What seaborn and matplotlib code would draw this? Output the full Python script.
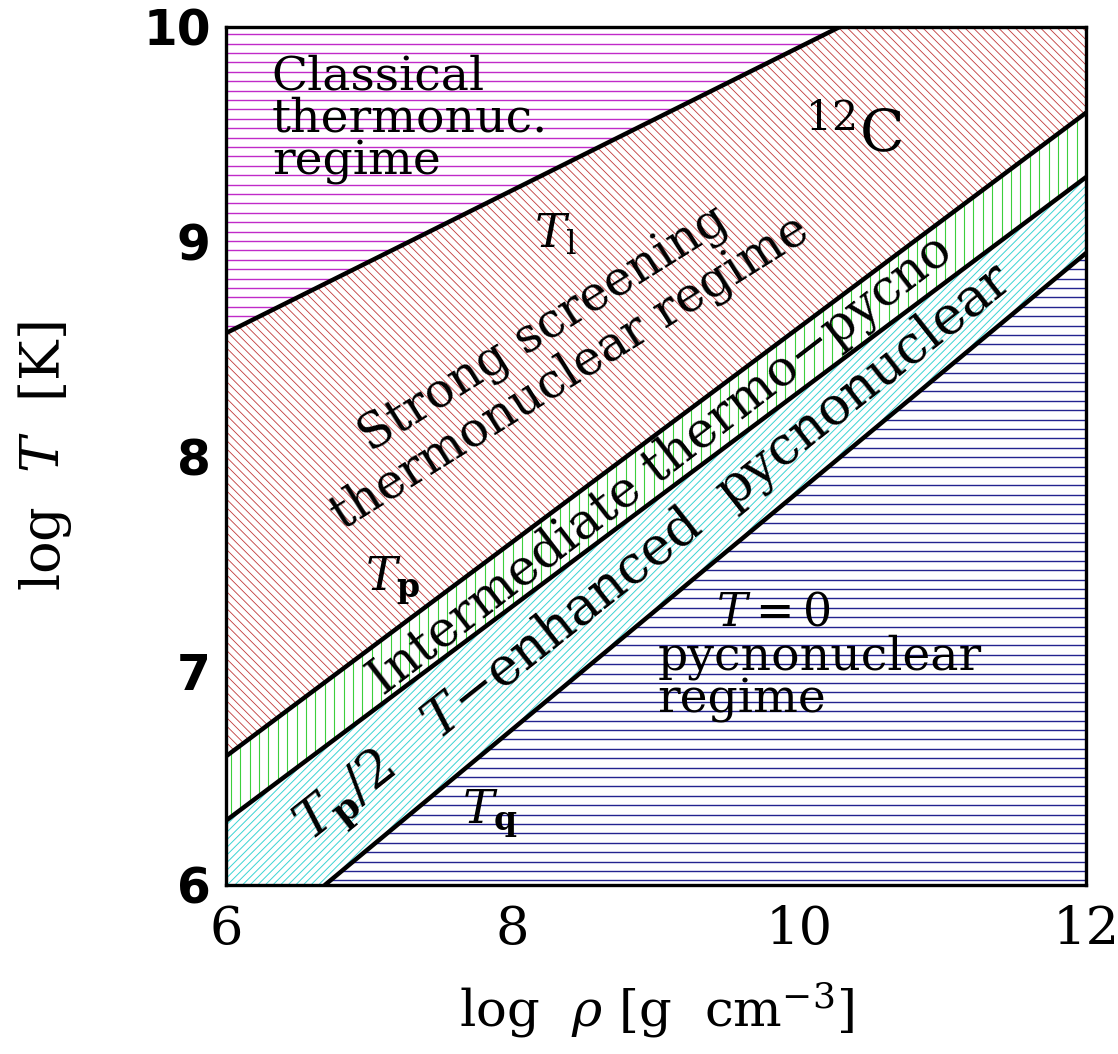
import numpy as np
import matplotlib
matplotlib.use("Agg")
import matplotlib.pyplot as plt
import seaborn as sns
from matplotlib.collections import LineCollection
from matplotlib.ticker import MultipleLocator, FixedLocator

# Regime boundaries in the (log rho, log T) plane for 12C
log_rho = [6.0, 12.0]
log_T_l = [8.573, 10.573]        # T_l : classical / strong-screening boundary
log_T_p = [6.60, 9.60]           # T_p : thermonuclear / intermediate boundary
log_T_p_half = [6.30, 9.30]      # T_p/2
log_rho_q = [6.69, 12.0]
log_T_q = [6.00, 8.946]          # T_q : T-enhanced / zero-temperature boundary

x_major = [6, 8, 10, 12]
y_major = [6, 7, 8, 9, 10]

sns.set_theme(style="ticks")
plt.rcParams["font.family"] = ["DejaVu Serif"]
plt.rcParams["mathtext.fontset"] = "dejavuserif"
for key in ["text.color", "axes.labelcolor", "xtick.color", "ytick.color",
            "xtick.labelcolor", "ytick.labelcolor"]:
    plt.rcParams[key] = "black"

FW, FH = 1118, 1054
fig = plt.figure(figsize=(FW / 100, FH / 100), dpi=100)
L, R, T, B = 226, 1086, 27, 885
ax = fig.add_axes([L / FW, 1 - B / FH, (R - L) / FW, (B - T) / FH])
W, H = R - L, B - T
ax.set_xlim(6, 12)
ax.set_ylim(6, 10)
ax.set_facecolor("white")


def hatch(poly, kind, spacing, color, lw, z):
    """Draw hatch lines (in pixel spacing) clipped to a filled region."""
    path = poly.get_paths()[0]
    segs = []
    if kind == "h":
        for yp in np.arange(spacing / 2, H, spacing):
            segs.append([(0, yp / H), (1, yp / H)])
    elif kind == "v":
        for xp in np.arange(spacing / 2, W, spacing):
            segs.append([(xp / W, 0), (xp / W, 1)])
    elif kind == "\\":
        for c in np.arange(0, W + H, spacing):
            segs.append([(c / W, 0), (0, c / H)])
    elif kind == "/":
        for c in np.arange(-W, H, spacing):
            segs.append([(0, c / H), (1, (c + W) / H)])
    lc = LineCollection(segs, colors=color, linewidths=lw,
                        transform=ax.transAxes, zorder=z)
    lc.set_clip_path(path, ax.transData)
    lc.set_clip_box(ax.bbox)
    ax.add_collection(lc, autolim=False)


# Classical thermonuclear regime (above T_l)
p = ax.fill_between(log_rho, log_T_l, [11, 11], facecolor="white", edgecolor="none", zorder=1)
hatch(p, "h", 9.4, "#c02ac8", 1.0, 1.05)
# Strong screening thermonuclear regime (T_p .. T_l)
p = ax.fill_between(log_rho, log_T_p, log_T_l, facecolor="white", edgecolor="none", zorder=1)
hatch(p, "\\", 8.4, "#c03a3a", 0.6, 1.05)
# Intermediate thermo-pycno regime (T_p/2 .. T_p)
p = ax.fill_between(log_rho, log_T_p_half, log_T_p, facecolor="white", edgecolor="none", zorder=1)
hatch(p, "v", 9.4, "#3ccf3c", 0.8, 1.05)
# T-enhanced pycnonuclear regime (below T_p/2)
p = ax.fill_between(log_rho, [5, 5], log_T_p_half, facecolor="white", edgecolor="none", zorder=1)
hatch(p, "/", 7.6, "#3cd4d4", 0.7, 1.05)
# T=0 pycnonuclear regime (below T_q)
p = ax.fill_between(log_rho_q, [5, 5], log_T_q, facecolor="white", edgecolor="none", zorder=1.2)
hatch(p, "h", 9.4, "#23238f", 1.0, 1.25)

# Boundary lines
for xs, ys in [(log_rho, log_T_l), (log_rho, log_T_p),
               (log_rho, log_T_p_half), (log_rho_q, log_T_q)]:
    sns.lineplot(x=xs, y=ys, color="black", linewidth=3.2, ax=ax, zorder=4)

# Axis decoration
ax.xaxis.set_major_locator(FixedLocator(x_major))
ax.yaxis.set_major_locator(FixedLocator(y_major))
ax.xaxis.set_minor_locator(MultipleLocator(0.5))
ax.yaxis.set_minor_locator(MultipleLocator(0.2))
ax.tick_params(which="both", direction="in", top=True, right=True,
               color="black", width=2.0, zorder=6)
ax.tick_params(which="major", length=24)
ax.tick_params(which="minor", length=12)
ax.tick_params(axis="x", which="major", pad=14, labelsize=38)
ax.tick_params(axis="y", which="major", pad=11, labelsize=35)
for lab in ax.get_yticklabels():
    lab.set_fontfamily("DejaVu Sans")
    lab.set_fontweight("bold")
for lab in ax.get_xticklabels():
    lab.set_fontfamily("DejaVu Serif")
for s in ax.spines.values():
    s.set_linewidth(2.4)
    s.set_color("black")
    s.set_zorder(6)

ax.set_xlabel(r"log  $\rho$ [g  cm$^{-3}$]", fontsize=37, labelpad=18)
ax.set_ylabel(r"log  $T$  [K]", fontsize=39, labelpad=50)

# Region annotations
pix_angle = np.degrees(np.arctan(0.5 * (H / 4) / (W / 6)))
ax.text(6.32, 9.57, "Classical\nthermonuc.\nregime", fontsize=34,
        ha="left", va="center", linespacing=0.92, zorder=5)
ax.text(10.38, 9.50, r"$^{12}$C", fontsize=42, ha="center", va="center", zorder=5)
ax.text(8.30, 9.03, r"$T_{\rm l}$", fontsize=34, ha="center", va="center", zorder=5)
ax.text(8.31, 8.49, "Strong screening\nthermonuclear regime", fontsize=35,
        rotation=32, rotation_mode="anchor", ha="center", va="center",
        linespacing=1.1, zorder=5)
ax.text(9.03, 7.96, "Intermediate thermo\u2212pycno", fontsize=36,
        rotation=pix_angle + 0.8, rotation_mode="anchor", ha="center", va="center", zorder=5)
ax.text(9.00, 7.54, r"$T_{\mathbf{p}}/2$   $T$" + "\u2212enhanced  pycnonuclear", fontsize=38,
        rotation=pix_angle + 1.5, rotation_mode="anchor", ha="center", va="center", zorder=5)
ax.text(7.16, 7.42, r"$T_{\mathbf{p}}$", fontsize=34, ha="center", va="center", zorder=5)
ax.text(7.84, 6.33, r"$T_{\mathbf{q}}$", fontsize=34, ha="center", va="center", zorder=5)
ax.text(9.82, 7.27, r"$\mathit{T}{=}\mathit{0}$", fontsize=33, ha="center", va="center", zorder=5)
ax.text(9.01, 6.96, "pycnonuclear\nregime", fontsize=34, ha="left", va="center",
        linespacing=0.92, zorder=5)

fig.savefig("out.png", dpi=100)
